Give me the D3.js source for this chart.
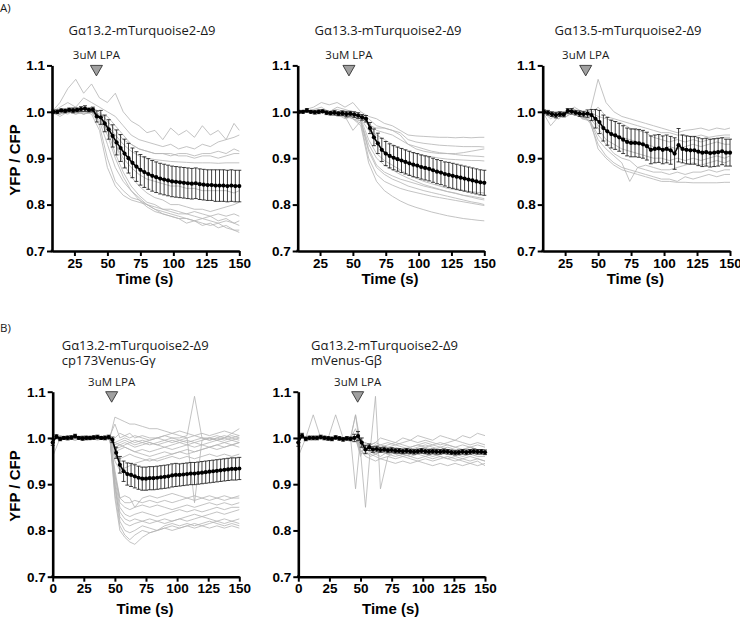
<!DOCTYPE html>
<html>
<head>
<meta charset="utf-8">
<script src="https://cdn.jsdelivr.net/npm/d3@7/dist/d3.min.js"></script>
<style>
  html, body { margin: 0; padding: 0; background: #fff; }
  svg { display: block; }
</style>
</head>
<body>
<svg id="chart" width="740" height="623"></svg>
<script>
// ---------------- DATA ----------------
const yTicks = [0.7, 0.8, 0.9, 1.0, 1.1];
const xTicksA = [25, 50, 75, 100, 125, 150];
const xTicksB = [0, 25, 50, 75, 100, 125, 150];

const titles = {
  A1: ["Gα13.2-mTurquoise2-Δ9"],
  A2: ["Gα13.3-mTurquoise2-Δ9"],
  A3: ["Gα13.5-mTurquoise2-Δ9"],
  B1: ["Gα13.2-mTurquoise2-Δ9", "cp173Venus-Gγ"],
  B2: ["Gα13.2-mTurquoise2-Δ9", "mVenus-Gβ"]
};
const stimLabel = "3uM LPA";
const stimTime = { A1: 41.7, A2: 47, A3: 40.6, B1: 47.4, B2: 47.7 };

// time points of the mean traces
const tA = [9,12,15,18,21,24,27,30,33,36,39,42,45,48,51,54,57,60,63,66,69,72,75,78,81,84,87,90,93,96,99,102,105,108,111,114,117,120,123,126,129,132,135,138,141,144,147,150];
const tB = [0,3,6,9,12,15,18,21,24,27,30,33,36,39,42,45,48,51,54,57,60,63,66,69,72,75,78,81,84,87,90,93,96,99,102,105,108,111,114,117,120,123,126,129,132,135,138,141,144,147,150];
// time points of the individual (grey) traces
const gA = [8,14,20,26,32,38,44,50,56,62,68,74,80,86,92,98,104,110,116,122,128,134,140,146,150];
const gB = [0,6,12,18,24,30,36,42,46,50,54,58,62,66,72,78,84,90,96,102,108,114,120,126,132,138,144,150];

// mean values and error bars
const meanA1 = [1.0,1.0,1.003,1.002,1.004,1.003,1.004,1.006,1.007,1.004,1.005,0.99,0.988,0.975,0.962,0.948,0.934,0.922,0.91,0.9,0.89,0.882,0.875,0.87,0.866,0.862,0.859,0.856,0.854,0.852,0.85,0.849,0.848,0.847,0.846,0.845,0.846,0.844,0.843,0.842,0.842,0.841,0.841,0.841,0.84,0.841,0.84,0.84];
const errA1 = [0.004,0.004,0.003,0.004,0.004,0.005,0.004,0.005,0.006,0.004,0.005,0.012,0.015,0.018,0.021,0.024,0.027,0.029,0.031,0.032,0.032,0.032,0.033,0.033,0.033,0.033,0.033,0.033,0.033,0.033,0.033,0.033,0.033,0.033,0.033,0.033,0.033,0.033,0.033,0.033,0.033,0.034,0.034,0.034,0.034,0.034,0.034,0.034];
const meanA2 = [1.0,1.0,1.003,1.0,0.999,1.0,1.001,0.998,0.997,0.998,0.996,0.997,0.995,0.996,0.994,0.992,0.988,0.985,0.965,0.945,0.932,0.918,0.91,0.905,0.901,0.898,0.895,0.892,0.889,0.886,0.884,0.881,0.879,0.877,0.874,0.871,0.869,0.866,0.864,0.862,0.86,0.858,0.856,0.854,0.852,0.85,0.848,0.847];
const errA2 = [0.003,0.003,0.004,0.003,0.004,0.004,0.003,0.004,0.004,0.005,0.004,0.005,0.006,0.005,0.006,0.006,0.006,0.007,0.012,0.018,0.022,0.025,0.026,0.026,0.026,0.026,0.026,0.026,0.026,0.026,0.026,0.026,0.026,0.026,0.026,0.026,0.026,0.026,0.027,0.027,0.027,0.027,0.027,0.027,0.027,0.027,0.027,0.027];
const meanA3 = [1.0,0.998,0.995,0.993,0.995,0.994,1.002,1.001,0.998,0.996,0.995,0.996,0.993,0.985,0.978,0.965,0.958,0.952,0.949,0.945,0.94,0.935,0.933,0.933,0.932,0.93,0.926,0.918,0.92,0.921,0.918,0.92,0.917,0.91,0.928,0.92,0.918,0.917,0.917,0.914,0.912,0.913,0.911,0.912,0.913,0.915,0.912,0.912];
const errA3 = [0.004,0.005,0.005,0.006,0.005,0.005,0.005,0.006,0.005,0.006,0.006,0.008,0.012,0.02,0.025,0.028,0.03,0.03,0.03,0.03,0.03,0.03,0.03,0.03,0.03,0.03,0.03,0.03,0.03,0.03,0.03,0.03,0.03,0.034,0.036,0.03,0.03,0.03,0.03,0.03,0.03,0.03,0.03,0.03,0.03,0.029,0.029,0.029];
const meanB1 = [0.99,1.003,0.998,1.0,1.0,1.001,1.004,1.0,0.999,1.0,1.0,1.001,1.002,1.0,1.0,1.002,0.996,0.968,0.942,0.928,0.922,0.92,0.917,0.914,0.912,0.912,0.913,0.913,0.914,0.915,0.916,0.917,0.919,0.92,0.92,0.921,0.922,0.923,0.923,0.924,0.925,0.926,0.927,0.928,0.929,0.93,0.931,0.932,0.933,0.933,0.934];
const errB1 = [0.006,0.004,0.004,0.003,0.004,0.004,0.004,0.003,0.004,0.004,0.003,0.004,0.004,0.003,0.004,0.004,0.006,0.012,0.018,0.022,0.024,0.025,0.025,0.025,0.025,0.025,0.025,0.025,0.025,0.025,0.025,0.025,0.025,0.025,0.024,0.024,0.024,0.024,0.024,0.024,0.024,0.024,0.024,0.024,0.024,0.024,0.024,0.024,0.024,0.024,0.024];
const meanB2 = [0.99,1.005,0.998,1.0,1.0,1.0,1.002,1.0,0.999,0.998,1.001,0.999,0.997,0.999,0.998,1.0,1.004,0.99,0.975,0.98,0.975,0.976,0.974,0.975,0.973,0.974,0.972,0.972,0.971,0.972,0.971,0.97,0.971,0.972,0.971,0.97,0.971,0.97,0.97,0.971,0.97,0.969,0.968,0.969,0.97,0.969,0.97,0.971,0.97,0.97,0.969];
const errB2 = [0.008,0.005,0.004,0.004,0.004,0.004,0.004,0.004,0.004,0.004,0.004,0.004,0.004,0.004,0.004,0.008,0.01,0.01,0.009,0.007,0.006,0.006,0.005,0.005,0.005,0.005,0.005,0.005,0.005,0.005,0.005,0.005,0.005,0.005,0.005,0.005,0.005,0.005,0.005,0.005,0.005,0.005,0.005,0.005,0.005,0.005,0.005,0.005,0.005,0.005,0.005];

// individual traces (grey)
const tracesA1 = [
  [1.0,1.02,1.05,1.07,1.04,1.06,1.03,1.02,1.04,1.0,0.98,0.97,0.955,0.96,0.94,0.965,0.95,0.96,0.945,0.97,0.95,0.96,0.94,0.975,0.96],
  [1.0,1.01,1.02,1.01,1.03,1.02,1.01,1.0,0.99,0.97,0.95,0.94,0.935,0.93,0.925,0.93,0.92,0.925,0.92,0.93,0.925,0.935,0.94,0.945,0.95],
  [1.0,0.995,1.005,1.01,1.0,1.01,1.0,0.98,0.96,0.94,0.93,0.92,0.915,0.91,0.91,0.905,0.91,0.91,0.905,0.91,0.91,0.915,0.91,0.92,0.915],
  [1.0,0.99,1.0,1.005,0.995,1.0,0.995,0.99,0.97,0.95,0.93,0.92,0.915,0.91,0.91,0.91,0.905,0.905,0.9,0.905,0.905,0.9,0.905,0.91,0.91],
  [1.0,1.005,1.0,0.995,1.0,1.005,0.99,0.97,0.95,0.93,0.915,0.905,0.9,0.897,0.895,0.893,0.892,0.891,0.89,0.89,0.89,0.889,0.89,0.89,0.89],
  [1.0,0.995,1.0,1.0,1.005,1.0,0.99,0.96,0.93,0.9,0.88,0.865,0.855,0.85,0.845,0.84,0.84,0.835,0.835,0.83,0.83,0.83,0.83,0.825,0.83],
  [1.0,1.0,0.995,1.005,1.0,0.995,0.96,0.88,0.84,0.82,0.81,0.805,0.8,0.795,0.79,0.79,0.785,0.78,0.785,0.78,0.775,0.78,0.775,0.78,0.775],
  [1.0,1.005,1.0,1.0,0.995,1.0,0.97,0.9,0.85,0.83,0.815,0.81,0.8,0.79,0.785,0.78,0.775,0.77,0.765,0.77,0.765,0.76,0.765,0.76,0.755],
  [1.0,1.0,1.0,0.995,1.0,1.0,0.98,0.93,0.88,0.85,0.83,0.815,0.8,0.79,0.78,0.775,0.77,0.76,0.765,0.755,0.76,0.75,0.755,0.745,0.74],
  [1.0,0.995,1.0,1.0,1.005,1.0,0.99,0.96,0.91,0.87,0.84,0.82,0.805,0.8,0.79,0.785,0.78,0.78,0.775,0.77,0.775,0.765,0.77,0.76,0.765],
  [1.0,1.0,1.005,1.0,1.0,1.005,0.99,0.97,0.93,0.89,0.86,0.84,0.825,0.815,0.81,0.8,0.8,0.795,0.79,0.79,0.785,0.79,0.795,0.8,0.805],
  [1.0,1.0,1.0,1.0,0.995,1.0,0.985,0.95,0.9,0.86,0.83,0.81,0.795,0.785,0.78,0.775,0.77,0.77,0.765,0.76,0.755,0.76,0.75,0.745,0.745]
];
const tracesA2 = [
  [1.0,1.005,1.01,1.02,1.015,1.02,1.01,1.02,1.0,0.99,0.985,0.975,0.97,0.96,0.95,0.948,0.947,0.946,0.945,0.945,0.944,0.945,0.944,0.945,0.945],
  [1.0,1.0,1.005,1.01,1.0,1.01,1.005,1.0,0.995,0.985,0.97,0.965,0.96,0.955,0.94,0.935,0.932,0.93,0.928,0.927,0.926,0.925,0.925,0.925,0.924],
  [1.0,1.0,1.0,1.005,1.0,1.0,1.0,0.995,0.99,0.975,0.96,0.955,0.95,0.94,0.93,0.925,0.92,0.915,0.912,0.91,0.908,0.906,0.905,0.904,0.903],
  [1.0,1.0,1.0,1.0,1.0,0.995,1.0,0.99,0.985,0.96,0.95,0.94,0.93,0.922,0.915,0.91,0.906,0.903,0.9,0.898,0.897,0.896,0.895,0.895,0.894],
  [1.0,1.0,1.0,1.0,1.0,0.995,0.985,0.99,0.985,0.94,0.91,0.895,0.885,0.875,0.865,0.857,0.85,0.845,0.84,0.835,0.832,0.83,0.828,0.826,0.825],
  [1.0,1.0,1.0,1.0,0.995,1.0,0.99,0.99,0.98,0.93,0.9,0.885,0.875,0.865,0.857,0.85,0.843,0.838,0.833,0.828,0.825,0.82,0.818,0.815,0.813],
  [1.0,1.0,1.0,1.0,1.0,1.0,0.995,0.985,0.98,0.92,0.885,0.87,0.862,0.855,0.85,0.845,0.84,0.836,0.832,0.828,0.824,0.82,0.816,0.812,0.81],
  [1.0,1.0,1.0,1.0,1.0,0.99,0.99,0.96,0.98,0.915,0.88,0.865,0.855,0.848,0.84,0.835,0.83,0.826,0.822,0.818,0.814,0.81,0.806,0.803,0.8],
  [1.0,1.0,1.0,1.0,1.0,1.0,0.995,0.985,0.975,0.9,0.865,0.85,0.842,0.835,0.83,0.826,0.822,0.818,0.815,0.812,0.809,0.806,0.803,0.8,0.798],
  [1.0,1.0,1.0,1.0,1.0,1.0,0.99,0.985,0.97,0.89,0.85,0.83,0.818,0.808,0.8,0.794,0.789,0.784,0.78,0.776,0.773,0.77,0.768,0.766,0.765],
  [1.0,1.0,1.0,1.005,1.0,1.005,1.0,0.995,0.99,0.97,0.965,0.965,0.96,0.95,0.93,0.92,0.915,0.912,0.91,0.91,0.91,0.912,0.915,0.918,0.92]
];
const tracesA3 = [
  [1.0,0.99,1.0,1.0,1.0,1.0,1.0,1.07,1.02,1.0,0.99,0.985,0.98,0.975,0.97,0.965,0.96,0.955,0.96,0.962,0.965,0.96,0.965,0.962,0.965],
  [1.0,1.0,0.99,1.0,1.01,1.0,0.995,1.01,0.99,0.985,0.98,0.975,0.97,0.965,0.96,0.955,0.955,0.95,0.95,0.945,0.95,0.945,0.948,0.95,0.95],
  [1.0,0.995,1.0,0.995,1.005,0.995,1.0,0.99,0.985,0.98,0.975,0.965,0.96,0.955,0.945,0.94,0.935,0.94,0.935,0.94,0.935,0.94,0.942,0.945,0.945],
  [1.0,1.0,0.985,1.0,1.0,0.99,0.99,0.97,0.96,0.95,0.945,0.94,0.935,0.93,0.925,0.92,0.925,0.92,0.925,0.93,0.925,0.93,0.935,0.93,0.93],
  [1.0,0.97,0.99,0.995,1.0,0.985,0.985,0.965,0.94,0.93,0.92,0.915,0.91,0.905,0.9,0.9,0.895,0.9,0.895,0.9,0.895,0.9,0.905,0.9,0.905],
  [1.0,0.99,0.995,0.99,1.0,0.99,0.98,0.95,0.93,0.91,0.9,0.895,0.88,0.885,0.88,0.875,0.875,0.88,0.885,0.89,0.885,0.89,0.895,0.89,0.895],
  [1.0,0.985,0.995,0.99,1.005,0.985,0.98,0.94,0.92,0.905,0.89,0.85,0.88,0.875,0.87,0.87,0.865,0.87,0.865,0.87,0.87,0.875,0.87,0.875,0.875],
  [1.0,1.0,0.995,1.0,0.995,0.995,0.975,0.93,0.905,0.89,0.88,0.875,0.87,0.865,0.86,0.855,0.855,0.85,0.86,0.855,0.86,0.865,0.86,0.865,0.865],
  [1.0,0.99,0.985,0.995,1.0,0.99,0.98,0.92,0.9,0.885,0.875,0.87,0.865,0.86,0.855,0.85,0.85,0.848,0.848,0.847,0.847,0.847,0.847,0.848,0.848]
];
const tracesB1 = [
  [1.0,1.0,0.995,1.0,1.005,1.0,1.0,1.0,1.0,1.045,1.04,1.035,1.03,1.03,1.025,1.02,1.02,1.015,1.01,1.015,1.01,1.005,1.01,1.005,1.01,1.015,1.01,1.02],
  [1.0,1.0,1.0,1.0,1.0,1.0,1.0,1.0,1.005,1.03,1.0,1.005,1.01,1.0,1.005,1.0,1.0,1.005,1.0,1.0,1.005,1.09,1.0,1.0,1.005,1.0,1.01,1.005],
  [1.0,1.005,1.0,0.995,1.0,1.0,1.005,1.0,1.0,0.99,0.995,1.0,0.995,0.99,0.995,0.99,0.985,0.99,0.995,0.99,0.995,0.99,0.995,1.0,0.995,1.0,0.995,1.0],
  [1.0,0.995,1.0,1.0,0.995,1.0,1.0,1.0,0.995,0.98,0.985,0.99,0.985,0.98,0.985,0.99,0.985,0.98,0.985,0.99,0.985,0.99,0.985,0.99,0.995,0.99,0.995,0.99],
  [1.0,1.0,1.005,1.0,1.0,0.995,1.0,1.0,1.0,0.975,0.98,0.985,0.99,0.995,0.99,0.995,1.0,0.995,1.0,0.995,1.0,0.86,0.995,1.0,0.995,1.0,1.005,1.0],
  [1.0,1.0,1.0,1.0,1.005,1.0,0.995,1.0,1.0,0.97,0.975,0.98,0.975,0.97,0.975,0.97,0.975,0.98,0.975,0.98,0.985,0.98,0.985,0.98,0.985,0.99,0.985,0.99],
  [1.0,1.0,1.0,0.995,1.0,1.0,1.0,1.005,1.0,0.99,0.985,0.98,0.975,0.97,0.965,0.96,0.965,0.97,0.965,0.97,0.975,0.97,0.975,0.98,0.975,0.98,0.985,0.98],
  [1.0,1.005,1.0,1.0,1.0,1.0,1.0,1.0,1.0,1.0,1.01,1.005,1.0,1.005,1.0,0.995,1.0,1.005,1.01,1.005,1.0,1.005,1.0,0.995,1.0,1.005,1.0,1.005],
  [1.0,1.0,1.0,1.0,1.0,1.005,1.0,1.0,1.0,0.96,0.955,0.96,0.965,0.96,0.955,0.95,0.955,0.96,0.965,0.97,0.965,0.97,0.975,0.98,0.985,0.98,0.985,0.99],
  [0.96,1.0,1.0,1.0,1.0,1.0,1.0,1.0,1.0,0.985,0.99,0.995,0.99,0.985,0.99,0.985,0.99,0.995,0.99,0.995,0.99,0.995,1.0,0.995,1.0,0.995,1.0,0.995],
  [1.0,1.0,1.0,1.0,1.0,1.0,1.0,1.0,1.0,0.93,0.87,0.86,0.86,0.865,0.86,0.865,0.86,0.865,0.86,0.865,0.87,0.865,0.87,0.865,0.87,0.865,0.87,0.87],
  [1.0,1.0,1.0,1.0,1.0,1.0,1.0,1.0,1.0,0.92,0.86,0.85,0.845,0.85,0.855,0.85,0.855,0.85,0.845,0.85,0.855,0.85,0.855,0.86,0.855,0.86,0.855,0.86],
  [1.0,1.0,1.0,1.0,1.0,1.0,1.0,1.0,1.0,0.91,0.85,0.835,0.83,0.835,0.84,0.835,0.83,0.835,0.84,0.845,0.84,0.845,0.84,0.845,0.85,0.845,0.85,0.85],
  [1.0,1.0,1.0,1.0,1.0,1.0,1.0,1.0,1.0,0.9,0.84,0.825,0.82,0.825,0.82,0.815,0.82,0.825,0.82,0.825,0.83,0.835,0.83,0.835,0.84,0.835,0.84,0.845],
  [1.0,1.0,1.0,1.0,1.0,1.0,1.0,1.0,1.0,0.89,0.83,0.815,0.81,0.815,0.82,0.825,0.82,0.815,0.82,0.825,0.82,0.825,0.83,0.825,0.82,0.825,0.82,0.825],
  [1.0,1.0,1.0,1.0,1.0,1.0,1.0,1.0,1.0,0.9,0.82,0.8,0.795,0.8,0.81,0.805,0.8,0.81,0.815,0.81,0.815,0.81,0.815,0.82,0.815,0.81,0.815,0.81],
  [1.0,1.0,1.0,1.0,1.0,1.0,1.0,1.0,1.0,0.88,0.81,0.79,0.78,0.79,0.8,0.795,0.8,0.805,0.81,0.805,0.81,0.815,0.81,0.815,0.82,0.815,0.82,0.815],
  [1.0,1.0,1.0,1.0,1.0,1.0,1.0,1.0,1.0,0.87,0.8,0.785,0.775,0.77,0.785,0.795,0.8,0.805,0.8,0.805,0.81,0.805,0.81,0.805,0.81,0.805,0.81,0.805],
  [1.0,1.0,1.0,1.0,1.0,1.0,1.0,1.0,1.0,0.92,0.87,0.875,0.87,0.85,0.87,0.875,0.87,0.875,0.88,0.875,0.87,0.875,0.87,0.875,0.87,0.875,0.87,0.875],
  [1.0,1.0,1.0,1.0,1.0,1.0,1.0,1.0,1.0,0.95,0.93,0.935,0.94,0.945,0.95,0.955,0.95,0.955,0.96,0.955,0.96,0.955,0.96,0.965,0.96,0.965,0.96,0.965]
];
const tracesB2 = [
  [1.0,1.0,1.05,1.0,1.0,1.0,1.0,1.0,1.0,0.98,0.975,0.98,0.985,0.98,0.985,0.99,0.985,0.98,0.985,0.99,0.985,0.99,0.985,0.98,0.985,0.98,0.985,0.98],
  [1.0,1.0,1.0,1.0,1.0,1.05,1.0,1.0,1.05,0.97,0.975,0.97,0.975,0.98,0.975,0.97,0.975,0.98,0.985,0.98,0.975,0.98,0.985,0.98,0.975,0.98,0.975,0.975],
  [1.0,1.0,1.0,1.0,1.0,1.0,1.0,1.0,0.89,1.0,0.975,0.97,0.965,0.97,0.965,0.96,0.965,0.96,0.955,0.96,0.955,0.96,0.955,0.95,0.955,0.95,0.955,0.95],
  [1.0,1.0,1.0,1.0,1.0,1.0,1.0,1.0,1.0,0.97,0.85,0.98,0.975,0.97,0.965,0.97,0.965,0.96,0.965,0.96,0.965,0.96,0.955,0.96,0.955,0.96,0.955,0.95],
  [1.0,1.0,1.0,1.0,1.0,1.0,1.0,1.0,1.0,0.98,0.975,0.98,1.09,0.89,0.96,0.97,0.965,0.97,0.975,0.97,0.975,0.97,0.975,0.97,0.975,0.97,0.965,0.97],
  [1.0,1.0,1.0,1.0,1.0,1.0,1.0,1.0,1.05,0.99,0.99,0.985,0.99,1.0,0.995,0.99,1.0,0.995,1.005,1.0,0.995,1.005,1.0,0.995,1.005,1.0,1.01,1.005],
  [1.0,1.0,1.0,1.0,1.0,1.0,1.0,1.0,1.0,0.96,0.99,0.975,0.98,0.985,0.99,0.985,0.99,0.995,0.99,0.995,0.99,0.985,0.99,0.995,0.99,0.985,0.99,0.985],
  [0.96,1.0,1.0,1.0,1.0,1.0,1.0,1.0,1.0,0.975,0.96,0.955,0.95,0.955,0.95,0.945,0.95,0.945,0.95,0.945,0.94,0.945,0.94,0.945,0.94,0.945,0.94,0.945],
  [1.0,1.0,1.0,1.0,1.0,1.0,1.0,1.0,1.0,0.965,0.97,0.965,0.96,0.955,0.96,0.955,0.96,0.955,0.95,0.955,0.95,0.955,0.96,0.955,0.95,0.945,0.95,0.94],
  [1.0,1.0,1.0,1.0,1.0,1.0,1.0,1.0,1.02,0.985,0.98,0.985,0.99,0.985,0.98,0.985,0.98,0.975,0.98,0.985,0.98,0.975,0.98,0.975,0.97,0.975,0.97,0.965],
  [1.0,1.0,1.0,1.0,1.0,1.0,1.0,1.0,1.0,0.99,0.98,0.97,0.965,0.97,0.975,0.98,0.975,0.97,0.975,0.98,0.985,0.98,0.975,0.97,0.975,0.98,0.975,0.97],
  [1.0,1.0,1.0,1.0,1.0,1.0,1.0,1.0,1.0,0.985,0.97,0.96,0.965,0.96,0.97,0.965,0.96,0.965,0.97,0.965,0.96,0.965,0.97,0.965,0.96,0.965,0.96,0.96]
];

// ---------------- DRAWING ----------------
const svg = d3.select("#chart");
const TICK_FONT = "'Liberation Sans', Arial, sans-serif";
const TITLE_FONT = "'Open Sans', 'DejaVu Sans', sans-serif";
const NARROW_FONT = "'Liberation Sans Narrow', 'Open Sans', sans-serif";

const panels = [
  { key: "A1", x0: 52, x1: 239.3, yTop: 65.4, yBot: 251, xmin: 8, t: tA, mean: meanA1, err: errA1, gt: gA, traces: tracesA1, xTicks: xTicksA, titleX: 142, titleY: 35, anchor: "middle", ylabel: true, ylabelY: 160, xlabelY: 284 },
  { key: "A2", x0: 297.7, x1: 484.3, yTop: 65.4, yBot: 251, xmin: 8, t: tA, mean: meanA2, err: errA2, gt: gA, traces: tracesA2, xTicks: xTicksA, titleX: 388, titleY: 35, anchor: "middle", ylabel: false, xlabelY: 284 },
  { key: "A3", x0: 542.7, x1: 730, yTop: 65.4, yBot: 251, xmin: 8, t: tA, mean: meanA3, err: errA3, gt: gA, traces: tracesA3, xTicks: xTicksA, titleX: 628, titleY: 35, anchor: "middle", ylabel: false, xlabelY: 284 },
  { key: "B1", x0: 52.7, x1: 239.3, yTop: 391.7, yBot: 576.7, xmin: 0, t: tB, mean: meanB1, err: errB1, gt: gB, traces: tracesB1, xTicks: xTicksB, titleX: 61.7, titleY: 349.5, anchor: "start", ylabel: true, ylabelY: 486, xlabelY: 614 },
  { key: "B2", x0: 298.3, x1: 485, yTop: 391.7, yBot: 576.7, xmin: 0, t: tB, mean: meanB2, err: errB2, gt: gB, traces: tracesB2, xTicks: xTicksB, titleX: 311, titleY: 349.5, anchor: "start", ylabel: false, xlabelY: 614 }
];

panels.forEach(p => {
  const g = svg.append("g");
  const x = d3.scaleLinear().domain([p.xmin, 150]).range([p.x0, p.x1]);
  const y = d3.scaleLinear().domain([0.7, 1.1]).range([p.yBot, p.yTop]);

  // grey individual traces
  const gl = d3.line().x((d, i) => x(p.gt[i])).y(d => y(d));
  g.append("g").selectAll("path").data(p.traces).join("path")
    .attr("d", d => gl(d.slice(0, p.gt.length)))
    .attr("fill", "none").attr("stroke", "#b4b4b4").attr("stroke-width", 0.8);

  // error bars
  const eb = g.append("g").attr("stroke", "#111").attr("stroke-width", 0.8);
  p.t.forEach((tt, i) => {
    const cx = x(tt), m = p.mean[i], e = p.err[i];
    eb.append("line").attr("x1", cx).attr("x2", cx).attr("y1", y(m - e)).attr("y2", y(m + e));
    eb.append("line").attr("x1", cx - 2).attr("x2", cx + 2).attr("y1", y(m - e)).attr("y2", y(m - e));
    eb.append("line").attr("x1", cx - 2).attr("x2", cx + 2).attr("y1", y(m + e)).attr("y2", y(m + e));
  });

  // mean line + dots
  const ml = d3.line().x((d, i) => x(p.t[i])).y(d => y(d));
  g.append("path").attr("d", ml(p.mean)).attr("fill", "none").attr("stroke", "#000").attr("stroke-width", 1.6);
  g.append("g").selectAll("circle").data(p.mean).join("circle")
    .attr("cx", (d, i) => x(p.t[i])).attr("cy", d => y(d)).attr("r", 2.1).attr("fill", "#000");

  // axes
  const ya = d3.axisLeft(y).tickValues(yTicks).tickFormat(d3.format(".1f")).tickSize(5).tickSizeOuter(0).tickPadding(2);
  const xa = d3.axisBottom(x).tickValues(p.xTicks).tickFormat(d3.format("d")).tickSize(5).tickSizeOuter(0).tickPadding(2);
  const yg = g.append("g").attr("transform", `translate(${p.x0},0)`).call(ya);
  const xg = g.append("g").attr("transform", `translate(0,${p.yBot})`).call(xa);
  [yg, xg].forEach(a => {
    a.select(".domain").attr("stroke", "#000").attr("stroke-width", 2.6);
    a.selectAll(".tick line").attr("stroke", "#000").attr("stroke-width", 2);
    a.selectAll(".tick text").attr("fill", "#000").style("font-family", TICK_FONT)
      .style("font-weight", "bold").style("font-size", "13.5px");
  });
  // corner join
  g.append("line").attr("x1", p.x0 - 1.3).attr("x2", p.x0 + 1).attr("y1", p.yBot).attr("y2", p.yBot)
    .attr("stroke", "#000").attr("stroke-width", 2.6);

  // titles
  p.titles = titles[p.key];
  p.titles.forEach((s, i) => {
    g.append("text").attr("x", p.titleX).attr("y", p.titleY + i * 15.5)
      .attr("text-anchor", p.anchor).style("font-family", TITLE_FONT).style("font-size", "13px")
      .attr("fill", "#1a1a1a").text(s);
  });

  // stimulus marker
  const sx = x(stimTime[p.key]);
  const top = p.yTop;
  g.append("path").attr("d", `M${sx - 6},${top} L${sx + 6},${top} L${sx},${top + 10.5} Z`)
    .attr("fill", "#a0a0a0").attr("stroke", "#333").attr("stroke-width", 0.9);
  g.append("text").attr("x", sx).attr("y", top - 6).attr("text-anchor", "middle")
    .style("font-family", NARROW_FONT).style("font-size", "11.5px").attr("fill", "#1a1a1a").text(stimLabel);

  // axis titles
  g.append("text").attr("x", (p.x0 + p.x1) / 2 - 1).attr("y", p.xlabelY).attr("text-anchor", "middle")
    .style("font-family", TICK_FONT).style("font-weight", "bold").style("font-size", "15px").text("Time (s)");
  if (p.ylabel) {
    g.append("text").attr("transform", `translate(19.5,${p.ylabelY}) rotate(-90)`).attr("text-anchor", "middle")
      .style("font-family", TICK_FONT).style("font-weight", "bold").style("font-size", "15px").text("YFP / CFP");
  }
});

// panel letters
svg.append("text").attr("x", 0).attr("y", 11.5).style("font-family", TITLE_FONT).style("font-size", "11.5px").attr("fill", "#1a1a1a").text("A)");
svg.append("text").attr("x", 0).attr("y", 332).style("font-family", TITLE_FONT).style("font-size", "11.5px").attr("fill", "#1a1a1a").text("B)");
</script>
</body>
</html>
